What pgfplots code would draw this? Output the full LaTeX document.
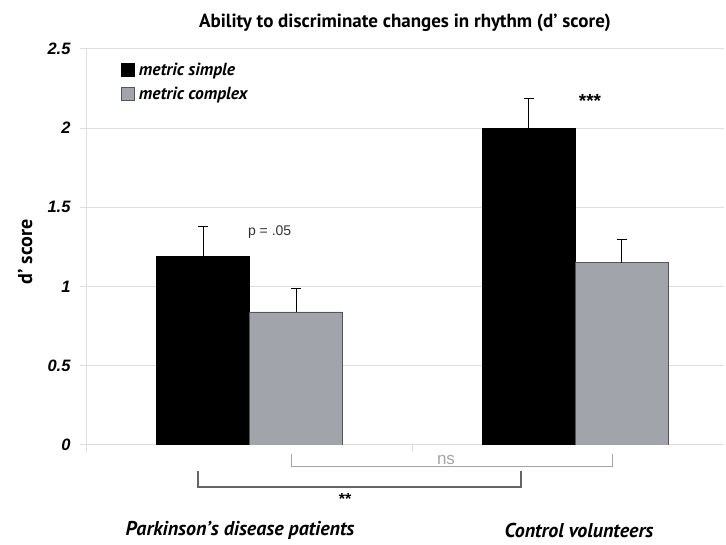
\documentclass[border=0pt]{standalone}
\usepackage{fontspec}
\setmainfont{PT Sans}
\newfontfamily\arialf{Liberation Sans}
\usepackage{pgfplots}
\pgfplotsset{compat=1.18}
\definecolor{barg}{RGB}{161,164,171}
\definecolor{bard}{RGB}{85,85,85}
\definecolor{gridc}{RGB}{222,222,222}
\definecolor{nsc}{RGB}{165,165,165}
\definecolor{bk}{RGB}{100,100,100}
\pgfplotsset{sqlegend/.style={legend image code/.code={\draw[##1] (0pt,-6.5pt) rectangle (13pt,6.5pt);}}}
\begin{document}
\begin{tikzpicture}[x=1pt,y=1pt]
\useasboundingbox[fill=white] (0,0) rectangle (726,544);
\begin{axis}[
  at={(87pt,99pt)}, anchor=south west,
  scale only axis, width=637pt, height=396pt,
  xmin=-0.5, xmax=1.458, ymin=0, ymax=2.5,
  ybar=0pt, bar width=93pt,
  axis lines*=left,
  axis line style={gridc, line width=1pt},
  ytick={0,0.5,1,1.5,2,2.5},
  yticklabels={0,0.5,1,1.5,2,2.5},
  xtick={-0.5,0.5}, xticklabels={},
  ymajorgrids, grid style={gridc, line width=1pt},
  major tick length=7pt, tick align=outside,
  tick style={gridc, line width=1pt},
  yticklabel style={font=\arialf\bfseries\itshape\fontsize{16.5}{16.5}\selectfont, xshift=-6pt},
  ylabel={d’ score},
  ylabel style={at={(axis description cs:-0.097,0.487)}, anchor=center, font=\bfseries\fontsize{20}{20}\selectfont},
  legend style={at={(axis description cs:0,1)}, anchor=north west, xshift=34pt, yshift=-12pt,
    draw=none, fill=none, inner sep=0pt, row sep=6pt,
    font=\bfseries\itshape\fontsize{17.5}{17.5}\selectfont,
    nodes={inner xsep=4pt}},
  legend cell align=left,
]
\addplot+[fill=black, draw=black, sqlegend,
  error bars/.cd, y dir=plus, y explicit,
  error bar style={black, line width=0.8pt},
  error mark options={rotate=90, mark size=5pt, black, line width=0.8pt}]
  coordinates {(0,1.19) +- (0,0.19) (1,2.00) +- (0,0.19)};
\addlegendentry{metric simple}
\addplot+[fill=barg, draw=bard, line width=0.8pt, sqlegend,
  error bars/.cd, y dir=plus, y explicit,
  error bar style={black, line width=0.8pt},
  error mark options={rotate=90, mark size=5pt, black, line width=0.8pt}]
  coordinates {(0,0.84) +- (0,0.15) (1,1.15) +- (0,0.15)};
\addlegendentry{metric complex}
\node[font=\arialf\fontsize{14}{14}\selectfont, text=black!80] at (axis cs:0.0615,1.345) {p = .05};
\node[font=\arialf\bfseries\fontsize{19}{19}\selectfont] at (axis cs:1.046,2.17) {***};
\end{axis}
\draw[nsc, line width=1pt] (291,90) -- (291,77) -- (612,77) -- (612,90);
\node[nsc, font=\arialf\fontsize{17}{17}\selectfont] at (446,84) {ns};
\draw[bk, line width=1.5pt] (198,73) -- (198,57) -- (521,57) -- (521,73);
\node[font=\arialf\bfseries\fontsize{16}{16}\selectfont] at (345,45) {**};
\node[font=\bfseries\itshape\fontsize{20}{20}\selectfont] at (240,14) {Parkinson’s disease patients};
\node[font=\bfseries\itshape\fontsize{20}{20}\selectfont] at (579,14) {Control volunteers};
\node[font=\bfseries\fontsize{19}{19}\selectfont] at (405,521) {Ability to discriminate changes in rhythm (d’ score)};
\end{tikzpicture}
\end{document}
